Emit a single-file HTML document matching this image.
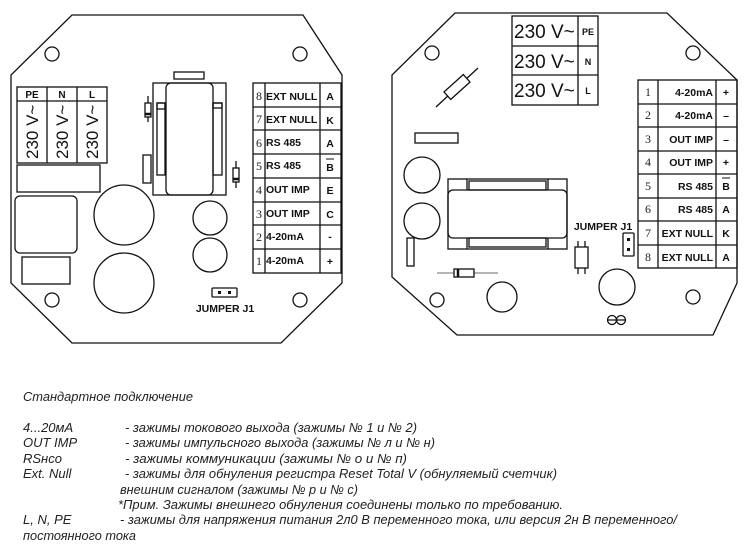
<!DOCTYPE html>
<html><head><meta charset="utf-8"><style>
html,body{margin:0;padding:0;background:#fff;}
svg{display:block;}
.b{font-family:"Liberation Sans","DejaVu Sans",sans-serif;font-weight:bold;fill:#111;}
.n{font-family:"Liberation Serif",serif;fill:#222;}
.t{font-family:"Liberation Sans Narrow","Liberation Sans","DejaVu Sans",sans-serif;font-style:italic;font-size:13px;fill:#222;}
.v{font-family:"Liberation Sans",sans-serif;fill:#111;}
</style></head><body>
<svg width="755" height="553" viewBox="0 0 755 553" xmlns="http://www.w3.org/2000/svg">
<g fill="none" stroke="#111" stroke-width="1.3">
<!-- LEFT BOARD -->
<polygon points="72,15 303,15 342,75 342,283 281,343 72,343 11,283 11,75"/>
<circle cx="52" cy="54" r="7"/><circle cx="300" cy="54" r="7"/>
<circle cx="52" cy="300" r="7"/><circle cx="300" cy="300" r="7"/>
<rect x="17" y="87" width="90" height="76"/>
<line x1="17" y1="101" x2="107" y2="101"/>
<line x1="47" y1="87" x2="47" y2="163"/><line x1="77" y1="87" x2="77" y2="163"/>
<rect x="17" y="165" width="83" height="27"/>
<rect x="15" y="196" width="62" height="57" rx="5"/>
<rect x="22" y="257" width="48" height="27"/>
<circle cx="124" cy="215" r="30"/><circle cx="124" cy="283" r="30"/>
<circle cx="210" cy="218" r="17"/><circle cx="210" cy="255" r="17"/>
<rect x="153" y="83" width="73" height="112"/>
<rect x="166" y="83" width="47" height="112" rx="5"/>
<rect x="157" y="103" width="8" height="72"/><rect x="213" y="103" width="9" height="72"/>
<rect x="157" y="103" width="8" height="6"/><rect x="213" y="103" width="9" height="5"/>
<rect x="174" y="72" width="30" height="7"/>
<rect x="143" y="155" width="8" height="28"/>
<line x1="148" y1="96" x2="148" y2="122"/><rect x="145" y="103" width="6" height="14" fill="#fff"/>
<line x1="145" y1="114" x2="151" y2="114" stroke-width="2.5"/>
<line x1="236" y1="161" x2="236" y2="188"/><rect x="233" y="168" width="6" height="14" fill="#fff"/>
<line x1="233" y1="179" x2="239" y2="179" stroke-width="2.5"/>
<rect x="253" y="83" width="88" height="190"/>
<line x1="265" y1="83" x2="265" y2="273"/><line x1="320" y1="83" x2="320" y2="273"/>
<line x1="253" y1="107" x2="341" y2="107"/><line x1="253" y1="130" x2="341" y2="130"/>
<line x1="253" y1="154" x2="341" y2="154"/><line x1="253" y1="178" x2="341" y2="178"/>
<line x1="253" y1="202" x2="341" y2="202"/><line x1="253" y1="225" x2="341" y2="225"/>
<line x1="253" y1="249" x2="341" y2="249"/>
<rect x="212" y="288" width="25" height="9" rx="1"/>
<!-- RIGHT BOARD -->
<polygon points="455,13 667,13 737,80 737,283 713,335 457,335 392,277 392,75"/>
<circle cx="432" cy="53" r="7"/><circle cx="693" cy="53" r="7"/>
<circle cx="437" cy="300" r="7"/>
<circle cx="693" cy="297" r="7"/>
<rect x="512" y="16" width="86" height="89"/>
<line x1="578" y1="16" x2="578" y2="105"/>
<line x1="512" y1="46" x2="598" y2="46"/><line x1="512" y1="75" x2="598" y2="75"/>
<line x1="436" y1="107" x2="478" y2="68"/>
<rect x="444" y="82" width="26" height="10" transform="rotate(-42 457 87)" fill="#fff"/>
<rect x="415" y="133" width="43" height="10"/>
<circle cx="422" cy="175" r="18"/><circle cx="422" cy="221" r="18"/>
<rect x="448" y="179" width="119" height="70"/>
<rect x="448" y="190" width="119" height="48" rx="5"/>
<line x1="467" y1="179" x2="467" y2="190"/><line x1="548" y1="179" x2="548" y2="190"/>
<line x1="467" y1="238" x2="467" y2="249"/><line x1="548" y1="238" x2="548" y2="249"/>
<rect x="469" y="181" width="77" height="9"/><rect x="469" y="238" width="77" height="9"/>
<rect x="407" y="238" width="7" height="28"/>
<line x1="437" y1="273" x2="498" y2="273" stroke="#888"/>
<rect x="454" y="269" width="20" height="8" fill="#fff"/>
<line x1="458" y1="269" x2="458" y2="277" stroke-width="2.5"/>
<circle cx="502" cy="297" r="15"/>
<circle cx="617" cy="287" r="18"/>
<rect x="575" y="247" width="13" height="21"/>
<line x1="578" y1="241" x2="578" y2="247"/><line x1="585" y1="241" x2="585" y2="247"/>
<line x1="578" y1="268" x2="578" y2="274"/><line x1="585" y1="268" x2="585" y2="274"/>
<rect x="623" y="233" width="11" height="23" rx="1"/>
<rect x="638" y="80" width="99" height="188"/>
<line x1="658" y1="80" x2="658" y2="268"/><line x1="716" y1="80" x2="716" y2="268"/>
<line x1="638" y1="104" x2="737" y2="104"/><line x1="638" y1="127" x2="737" y2="127"/>
<line x1="638" y1="151" x2="737" y2="151"/><line x1="638" y1="174" x2="737" y2="174"/>
<line x1="638" y1="198" x2="737" y2="198"/><line x1="638" y1="221" x2="737" y2="221"/>
<line x1="638" y1="245" x2="737" y2="245"/>
<circle cx="612" cy="320" r="4.5"/><circle cx="621" cy="320" r="4.5"/>
<line x1="608" y1="320" x2="625" y2="320"/>
</g>
<!-- jumper dots -->
<rect x="218" y="291" width="3" height="3" fill="#111"/><rect x="228" y="291" width="3" height="3" fill="#111"/>
<rect x="627" y="238" width="3" height="3" fill="#111"/><rect x="627" y="248" width="3" height="3" fill="#111"/>
<!-- left texts -->
<g class="b" font-size="10" text-anchor="middle">
<text x="32" y="98">PE</text><text x="62" y="98">N</text><text x="92" y="98">L</text>
</g>
<g class="v" font-size="17">
<text transform="translate(38,159) rotate(-90)">230 V~</text>
<text transform="translate(68,159) rotate(-90)">230 V~</text>
<text transform="translate(98,159) rotate(-90)">230 V~</text>
</g>
<g class="n" font-size="12" text-anchor="middle">
<text x="259" y="100">8</text><text x="259" y="123">7</text><text x="259" y="147">6</text><text x="259" y="170">5</text>
<text x="259" y="194">4</text><text x="259" y="218">3</text><text x="259" y="241">2</text><text x="259" y="265">1</text>
</g>
<g class="b" font-size="10.5">
<text x="266" y="100">EXT NULL</text><text x="266" y="123">EXT NULL</text>
<text x="266" y="146">RS 485</text><text x="266" y="169">RS 485</text>
<text x="266" y="193">OUT IMP</text><text x="266" y="217">OUT IMP</text>
<text x="266" y="240">4-20mA</text><text x="266" y="264">4-20mA</text>
</g>
<g class="b" font-size="10.5" text-anchor="middle">
<text x="330" y="100">A</text><text x="330" y="124">K</text><text x="330" y="147">A</text><text x="330" y="171">B</text>
<text x="330" y="194">E</text><text x="330" y="218">C</text><text x="330" y="240">-</text><text x="330" y="265">+</text>
</g>
<line x1="326" y1="159" x2="334" y2="159" stroke="#111" stroke-width="1"/>
<text class="b" x="225" y="312" font-size="10.5" text-anchor="middle">JUMPER J1</text>
<!-- right texts -->
<g class="v" font-size="19">
<text x="514" y="38">230 V~</text><text x="514" y="68">230 V~</text><text x="514" y="97">230 V~</text>
</g>
<g class="b" font-size="9" text-anchor="middle">
<text x="588" y="35">PE</text><text x="588" y="65">N</text><text x="588" y="94">L</text>
</g>
<g class="n" font-size="12" text-anchor="middle">
<text x="648" y="96">1</text><text x="648" y="119">2</text><text x="648" y="143">3</text><text x="648" y="166">4</text>
<text x="648" y="190">5</text><text x="648" y="213">6</text><text x="648" y="237">7</text><text x="648" y="261">8</text>
</g>
<g class="b" font-size="10.5" text-anchor="end">
<text x="713" y="96">4-20mA</text><text x="713" y="119">4-20mA</text>
<text x="713" y="143">OUT IMP</text><text x="713" y="166">OUT IMP</text>
<text x="713" y="190">RS 485</text><text x="713" y="213">RS 485</text>
<text x="713" y="237">EXT NULL</text><text x="713" y="261">EXT NULL</text>
</g>
<g class="b" font-size="10.5" text-anchor="middle">
<text x="726" y="96">+</text><text x="726" y="119">–</text><text x="726" y="143">–</text><text x="726" y="166">+</text>
<text x="726" y="190">B</text><text x="726" y="213">A</text><text x="726" y="237">K</text><text x="726" y="261">A</text>
</g>
<line x1="722" y1="178" x2="730" y2="178" stroke="#111" stroke-width="1"/>
<text class="b" x="603" y="230" font-size="10.5" text-anchor="middle">JUMPER J1</text>
<!-- bottom text -->
<g class="t">
<text x="23" y="401" textLength="170" lengthAdjust="spacingAndGlyphs">Стандартное подключение</text>
<text x="23" y="432">4...20мА</text>
<text x="125" y="432" textLength="292" lengthAdjust="spacingAndGlyphs">- зажимы токового выхода (зажимы № 1 и № 2)</text>
<text x="23" y="447">OUT IMP</text>
<text x="125" y="447" textLength="310" lengthAdjust="spacingAndGlyphs">- зажимы импульсного выхода (зажимы № л и № н)</text>
<text x="23" y="463">RSнсо</text>
<text x="125" y="463" textLength="282" lengthAdjust="spacingAndGlyphs">- зажимы коммуникации (зажимы № о и № п)</text>
<text x="23" y="478">Ext. Null</text>
<text x="125" y="478" textLength="432" lengthAdjust="spacingAndGlyphs">- зажимы для обнуления регистра Reset Total V (обнуляемый счетчик)</text>
<text x="120" y="494" textLength="238" lengthAdjust="spacingAndGlyphs">внешним  сигналом (зажимы № р и № с)</text>
<text x="118" y="509" textLength="445" lengthAdjust="spacingAndGlyphs">*Прим. Зажимы внешнего обнуления соединены только по требованию.</text>
<text x="23" y="524">L, N, PE</text>
<text x="120" y="524" textLength="557" lengthAdjust="spacingAndGlyphs">- зажимы для напряжения питания 2л0 В переменного тока, или версия 2н В переменного/</text>
<text x="23" y="540" textLength="113" lengthAdjust="spacingAndGlyphs">постоянного тока</text>
</g>
</svg>
</body></html>
